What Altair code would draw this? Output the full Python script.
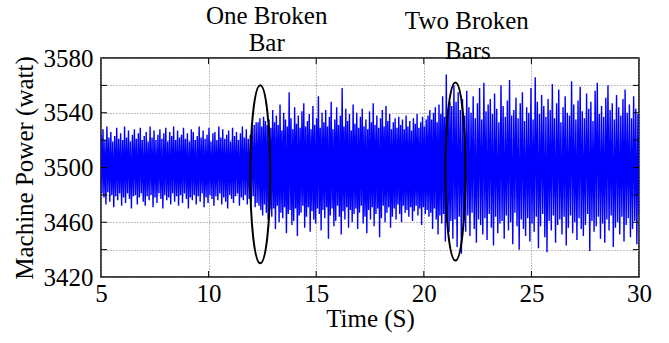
import altair as alt
import numpy as np
import pandas as pd

# Segment boundaries (s)
segment_bounds = [5.0, 12.3, 21.3, 30.0]
base_power = 3500  # W, mean level

# Deviations from 3500 W (alternating swings of the signal)
dev_healthy = [
    24, -19, 28, -22, 20, -27, 30, -18, 22, -25, 26, -20, 19, -29, 23, -21, 29, -24, 21, -19,
    25, -28, 20, -22, 30, -26, 22, -19, 27, -23, 19, -30, 24, -21, 28, -20, 21, -27, 25, -22,
    29, -19, 20, -25, 23, -28, 26, -21, 19, -24, 30, -20, 22, -29, 27, -22, 20, -26, 24, -19,
    28, -23, 21, -30, 25, -20, 29, -24, 19, -22, 26, -27, 23, -19, 30, -25, 20, -21, 27, -28,
    22, -20, 24, -26, 29, -19, 21, -23, 25, -30, 19, -22, 28, -24, 26, -20, 20, -27, 23, -21,
    30, -25, 22, -19, 27, -29, 21, -22, 24, -26, 29, -20, 19, -23, 25, -28, 26, -21, 20, -24,
    30, -19, 22, -27, 28, -22, 21, -25, 24, -30, 27, -20, 19, -23, 29, -26, 23, -21, 26, -19,
    20, -28, 25, -22, 30, -24, 22, -20, 28, -27, 21, -23, 24, -25, 29, -21, 31, -29, 33, -26,
]
dev_one_bar = [
    33, -28, 36, -31, 30, -35, 37, -27, 34, -33, 31, -38, 35, -30,
    29, -36, 42, -30, 33, -45, 38, -28, 31, -40, 46, -33, 27, -37, 40, -29, 35, -48, 30, -34,
    55, -31, 36, -42, 28, -39, 44, -30, 32, -50, 38, -35, 29, -33, 41, -28, 47, -44, 30, -36,
    34, -29, 39, -47, 28, -32, 45, -38, 31, -41, 36, -30, 52, -34, 29, -46, 40, -31, 33, -37,
    42, -29, 30, -52, 37, -35, 48, -30, 28, -43, 35, -39, 44, -28, 31, -36, 38, -49, 58, -32,
    30, -38, 43, -29, 34, -44, 39, -31, 27, -40, 46, -34, 32, -30,
    40, -45, 29, -33, 37, -28, 43, -41, 30, -36, 35, -48, 28, -31, 41, -38, 33, -29, 47, -43,
    31, -34, 38, -30, 29, -51, 36, -37, 42, -28, 30, -40, 45, -33, 34, -29, 39, -44, 28, -36,
    33, -30, 36, -38, 29, -27, 37, -34, 31, -40, 35, -28, 28, -33, 38, -31, 30, -36, 34, -29,
    27, -39, 36, -32, 32, -28, 39, -35, 29, -30, 33, -42, 37, -29, 30, -34, 35, -31,
    38, -36, 42, -33, 35, -45, 40, -30, 44, -38, 33, -49, 46, -35, 39, -41, 52, -34, 37, -54,
    68, -40, 43, -47, 48, -39,
]
dev_two_bars = [
    45, -52, 60, -38, 48, -58, 55, -36, 42, -63, 50, -40,
    38, -47, 56, -35, 44, -50, 40, -33, 52, -45, 36, -55, 47, -38, 58, -42, 35, -49, 62, -37,
    41, -53, 46, -34, 50, -44, 39, -57, 54, -36, 43, -48, 33, -41, 60, -39, 45, -52, 37, -35,
    49, -46, 64, -40, 38, -56, 42, -33, 51, -43, 36, -60, 47, -38, 55, -45, 34, -50, 44, -37,
    40, -54, 58, -41, 35, -47, 66, -36, 48, -59, 39, -43, 53, -34, 45, -51, 37, -62, 50, -39,
    42, -46, 61, -35, 36, -55, 47, -42, 57, -38, 33, -49, 44, -36, 52, -57, 40, -44, 38, -35,
    63, -48, 46, -40, 35, -53, 49, -37, 59, -45, 41, -50, 36, -42, 54, -34, 43, -61, 48, -39,
    34, -47, 56, -43, 62, -36, 39, -52, 45, -41, 37, -55, 51, -38, 60, -46, 42, -35, 47, -58,
    35, -44, 53, -40, 44, -49, 38, -36, 50, -54, 57, -42, 40, -37, 46, -51, 36, -45, 52, -39,
    43, -56, 39, -34,
]

# Annotations
ann_labels = ["One Broken", "Bar", "Two Broken", "Bars"]
ann_t = [12.7, 12.7, 22.0, 22.05]
ann_p = [3611, 3591, 3607, 3585]
ellipse_t = [12.4, 21.47]
ellipse_p = [3495, 3497]

x_ticks = [5, 10, 15, 20, 25, 30]
y_ticks = [3420, 3440, 3460, 3480, 3500, 3520, 3540, 3560, 3580]

segments = [dev_healthy, dev_one_bar, dev_two_bars]
frames = []
for i, devs in enumerate(segments):
    last = i == len(segments) - 1
    ts = np.linspace(segment_bounds[i], segment_bounds[i + 1], len(devs), endpoint=last)
    frames.append(pd.DataFrame({"t": ts, "p": base_power + np.array(devs)}))
df = pd.concat(frames, ignore_index=True)

FONT = "'Liberation Serif', 'Times New Roman', Times, serif"
W, H = 538, 219

xscale = alt.Scale(domain=[5, 30], nice=False)
yscale = alt.Scale(domain=[3420, 3580], nice=False, zero=False)
xaxis = alt.Axis(values=x_ticks, title="Time (S)", grid=True, ticks=False, tickSize=0,
                 domain=False, labelPadding=4, titlePadding=0, labelFlush=False, format="d")
yaxis = alt.Axis(values=y_ticks, title="Machine Power (watt)", grid=True, ticks=False,
                 tickSize=0, domain=False, labelPadding=8, titlePadding=6, format="d",
                 labelExpr="datum.value % 40 == 0 ? '' : datum.label")
X = alt.X("t:Q", scale=xscale, axis=xaxis)
Y = alt.Y("p:Q", scale=yscale, axis=yaxis)

line = alt.Chart(df).mark_line(color="#0000ff", strokeWidth=1.4, clip=True).encode(x=X, y=Y)

inner_x = [v for v in x_ticks if 5 < v < 30]
inner_y = [v for v in y_ticks if 3420 < v < 3580]
xt = pd.DataFrame({"t": inner_x})
yt = pd.DataFrame({"p": inner_y})
tick_b = alt.Chart(xt).mark_rule(color="black", strokeWidth=1).encode(x=X, y=alt.value(H), y2=alt.value(H - 6))
tick_t = alt.Chart(xt).mark_rule(color="black", strokeWidth=1).encode(x=X, y=alt.value(0), y2=alt.value(6))
tick_l = alt.Chart(yt).mark_rule(color="black", strokeWidth=1).encode(y=Y, x=alt.value(0), x2=alt.value(6))
tick_r = alt.Chart(yt).mark_rule(color="black", strokeWidth=1).encode(y=Y, x=alt.value(W), x2=alt.value(W - 6))

ell_path = ("M0,-1C0.0619,-1,0.112,-0.5523,0.112,0C0.112,0.5523,0.0619,1,0,1"
            "C-0.0619,1,-0.112,0.5523,-0.112,0C-0.112,-0.5523,-0.0619,-1,0,-1Z")
ell = alt.Chart(pd.DataFrame({"t": ellipse_t, "p": ellipse_p})).mark_point(
    shape=ell_path, size=178 ** 2, filled=False, stroke="black", strokeWidth=2, opacity=1
).encode(x=X, y=Y)

ann = alt.Chart(pd.DataFrame({"t": ann_t, "p": ann_p, "label": ann_labels})).mark_text(
    font=FONT, fontSize=25, color="black", align="center", baseline="middle"
).encode(x=X, y=Y, text="label:N")

chart = alt.layer(line, tick_b, tick_t, tick_l, tick_r, ell, ann).properties(
    width=W, height=H,
    autosize=alt.AutoSizeParams(type="none"),
    padding={"left": 101, "top": 58, "right": 30, "bottom": 66},
    background="white",
).configure_view(stroke="black", strokeWidth=1.5).configure_axis(
    labelFont=FONT, titleFont=FONT, labelFontSize=25, titleFontSize=25,
    labelColor="black", titleColor="black", titleFontWeight="normal",
    gridColor="#7f7f7f", gridDash=[1, 2], gridWidth=1, gridOpacity=1,
)

chart.save("out.html", embed_options={"renderer": "svg", "actions": False})
